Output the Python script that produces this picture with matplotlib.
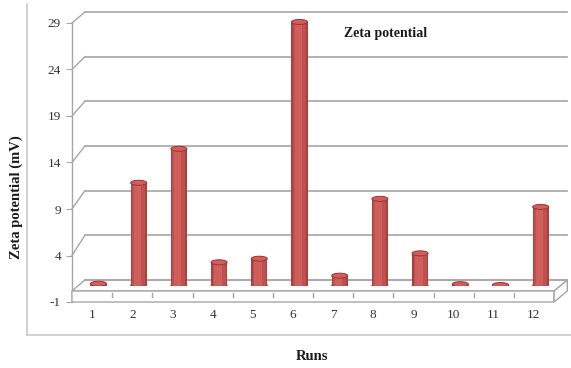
import matplotlib
matplotlib.use("Agg")
import matplotlib.pyplot as plt
from matplotlib.patches import Ellipse, Polygon
from matplotlib.lines import Line2D
from matplotlib.transforms import ScaledTranslation, IdentityTransform

# ---- data ----
runs = ["1", "2", "3", "4", "5", "6", "7", "8", "9", "10", "11", "12"]
zeta = [-0.8, 10.5, 14.3, 1.6, 2.0, 28.5, 0.1, 8.7, 2.6, -0.85, -0.95, 7.8]
y_ticks = [-1, 4, 9, 14, 19, 24, 29]
y_min, y_max = -1, 29

title = "Zeta potential"
x_title = "Runs"
y_title = "Zeta potential (mV)"

# ---- figure ----
W, H = 571, 368
DPI = 100
fig = plt.figure(figsize=(W / DPI, H / DPI), dpi=DPI)
fig.patch.set_facecolor("white")

def fx(px):
    return px / W

def fy(py_img):
    return (H - py_img) / H

serif = ["Liberation Serif", "DejaVu Serif"]
grid_c = "#a6a6a6"
txt_c = "#333333"

# mid-depth data axes (bars live here)
ax = fig.add_axes([fx(78.4), fy(285.5), fx(560.8 - 78.4), (285.5 - 17.5) / H], zorder=3)
ax.set_xlim(0.5, 12.5)
ax.set_ylim(y_min, y_max)
ax.axis("off")
ax.patch.set_alpha(0)

# front axes (value axis + category labels)
axf = fig.add_axes([fx(72), fy(302), fx(554 - 72), (302 - 23) / H], zorder=0)
axf.set_xlim(0.5, 12.5)
axf.set_ylim(y_min, y_max)
axf.patch.set_alpha(0)
for s in ["top", "right", "bottom"]:
    axf.spines[s].set_visible(False)
axf.spines["left"].set_color(grid_c)
axf.spines["left"].set_linewidth(1.0)
axf.set_yticks(y_ticks)
axf.set_yticklabels([str(t) for t in y_ticks], fontfamily=serif, fontsize=9.5, color=txt_c)
axf.tick_params(axis="y", length=4, color=grid_c, pad=4)
axf.set_xticks(range(1, len(runs) + 1))
axf.set_xticklabels(runs, fontfamily=serif, fontsize=9.5, color=txt_c)
axf.tick_params(axis="x", which="major", length=0, pad=5)
axf.set_xticks([i + 0.5 for i in range(1, len(runs))], minor=True)
axf.tick_params(axis="x", which="minor", length=5, direction="in", color=grid_c, width=1.0)

off_back = ScaledTranslation(6.5 / DPI, 5.5 / DPI, fig.dpi_scale_trans)
off_front = ScaledTranslation(-6.5 / DPI, -5.5 / DPI, fig.dpi_scale_trans)
back = ax.transData + off_back
front_top = ax.transData + off_front

# back wall gridlines
for t in y_ticks:
    ax.plot([0.5, 12.5], [t, t], color=grid_c, lw=1.2, transform=back, zorder=0, clip_on=False)

fig.canvas.draw()
# diagonals from front ticks to back wall
for t in y_ticks:
    p1 = axf.transData.transform((0.5, t))
    p2 = back.transform((0.5, t))
    fig.add_artist(Line2D([p1[0], p2[0]], [p1[1], p2[1]], color=grid_c, lw=1.0,
                          transform=IdentityTransform(), zorder=1))

# floor slab
ft_l = front_top.transform((0.5, y_min)); ft_r = front_top.transform((12.5, y_min))
bk_l = back.transform((0.5, y_min)); bk_r = back.transform((12.5, y_min))
fb_l = axf.transData.transform((0.5, y_min)); fb_r = axf.transData.transform((12.5, y_min))
br_b = (bk_r[0], bk_r[1] - (ft_r[1] - fb_r[1]))
for poly in ([ft_l, ft_r, bk_r, bk_l], [fb_l, fb_r, ft_r, ft_l], [fb_r, br_b, bk_r, ft_r]):
    fig.add_artist(Polygon(poly, closed=True, facecolor="white", edgecolor=grid_c, lw=1.0,
                           transform=IdentityTransform(), zorder=1))
# redraw the minor ticks on top of the slab face
for i in range(1, len(runs)):
    p = axf.transData.transform((i + 0.5, y_min))
    fig.add_artist(Line2D([p[0], p[0]], [p[1] + 5, p[1] + 9], color=grid_c, lw=1.0,
                          transform=IdentityTransform(), zorder=1.5))

# bars as cylinders
bw = 0.4
eh = 0.56
body = "#c0504d"
for i, v in enumerate(zeta):
    x = i + 1
    hgt = v - y_min
    ax.add_patch(Ellipse((x, y_min), bw, eh, facecolor="#a33c3a", edgecolor="#8a2f2d", lw=0.6, zorder=2))
    ax.bar(x, hgt, bottom=y_min, width=bw, color="#a8403d", edgecolor="none", zorder=3)
    ax.bar(x, hgt, bottom=y_min, width=bw * 0.8, color=body, edgecolor="none", zorder=3)
    ax.bar(x - 0.03, hgt, bottom=y_min, width=bw * 0.45, color="#cf5f5c", edgecolor="none", zorder=3)
    ax.add_patch(Ellipse((x, v), bw, eh, facecolor="#d25e5b", edgecolor="#9b3633", lw=0.7, zorder=4))

# frame lines
fig.add_artist(Line2D([fx(27), fx(27)], [fy(335), fy(4)], color="#c8c8c8", lw=1.2))
fig.add_artist(Line2D([fx(27), fx(571)], [fy(335), fy(335)], color="#c8c8c8", lw=1.2))

# texts
fig.text(fx(386), fy(33), title, fontfamily=serif, fontsize=10, fontweight="bold",
         ha="center", va="center", color="#1a1a1a")
fig.text(fx(312), fy(357), x_title, fontfamily=serif, fontsize=10.5, fontweight="bold",
         ha="center", va="center", color="#1a1a1a")
fig.text(fx(16), fy(197), y_title, fontfamily=serif, fontsize=10.5, fontweight="bold",
         ha="center", va="center", rotation=90, color="#1a1a1a")

fig.savefig("out.png", dpi=DPI, facecolor="white")
